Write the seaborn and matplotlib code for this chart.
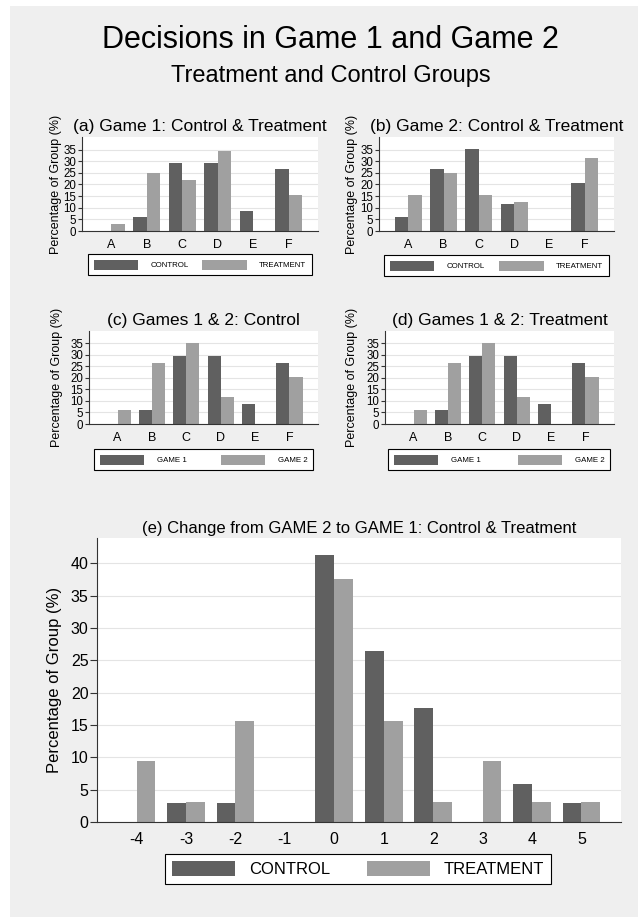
import numpy as np
import pandas as pd
import seaborn as sns
import matplotlib.pyplot as plt
from matplotlib.patches import Rectangle


choices = ["A", "B", "C", "D", "E", "F"]

# percent of each group choosing A-F
g1_control = [0.0, 5.9, 29.4, 29.4, 8.8, 26.5]
g1_treatment = [3.1, 25.0, 21.9, 34.4, 0.0, 15.6]
g2_control = [5.9, 26.5, 35.3, 11.8, 0.0, 20.6]
g2_treatment = [15.6, 25.0, 15.6, 12.5, 0.0, 31.3]

# panel (d) as drawn in the source figure
d_game1 = [0.0, 5.9, 29.4, 29.4, 8.8, 26.5]
d_game2 = [5.9, 26.5, 35.3, 11.8, 0.0, 20.6]

changes = ["-4", "-3", "-2", "-1", "0", "1", "2", "3", "4", "5"]
change_control = [0.0, 2.9, 2.9, 0.0, 41.2, 26.5, 17.6, 0.0, 5.9, 2.9]
change_treatment = [9.4, 3.1, 15.6, 0.0, 37.5, 15.6, 3.1, 9.4, 3.1, 3.1]

DARK = "#606060"
LIGHT = "#a0a0a0"
W, H = 638, 917


def long(cats, v1, v2, n1, n2):
    return pd.DataFrame({
        "cat": cats + cats,
        "pct": v1 + v2,
        "grp": [n1] * len(cats) + [n2] * len(cats),
    })


def rect(x0, y0, x1, y1):
    return [x0 / W, 1 - y1 / H, (x1 - x0) / W, (y1 - y0) / H]


sns.set_theme(style="white")
plt.rcParams["font.family"] = ["Liberation Sans", "DejaVu Sans"]
plt.rcParams["text.color"] = "black"
plt.rcParams["axes.labelcolor"] = "black"
plt.rcParams["xtick.color"] = "black"
plt.rcParams["ytick.color"] = "black"

fig = plt.figure(figsize=(W / 100, H / 100), dpi=100)
fig.patch.set_facecolor("white")
fig.add_artist(Rectangle((10 / W, 0), 1 - 10 / W, 1 - 6 / H,
                         transform=fig.transFigure, facecolor="#efefef",
                         edgecolor="none", zorder=-1))

fig.text(330 / W, 1 - 48.3 / H, "Decisions in Game 1 and Game 2",
         ha="center", va="baseline", fontsize=22)
fig.text(331 / W, 1 - 81.7 / H, "Treatment and Control Groups",
         ha="center", va="baseline", fontsize=17)


def panel(df, order, box, title, leg_box, lab_x, big=False):
    x0, y0, x1, y1 = box
    ax = fig.add_axes(rect(*box))
    ax.set_facecolor("white")
    sns.barplot(data=df, x="cat", y="pct", hue="grp", order=order,
                palette=[DARK, LIGHT], saturation=1, width=0.76,
                linewidth=0, ax=ax)
    leg = ax.get_legend()
    handles = leg.legend_handles
    labels = [t.get_text() for t in leg.get_texts()]
    leg.remove()

    n = len(order)
    if big:
        ax.set_xlim(-0.8, n - 0.2)
        ax.set_ylim(0, 43.9)
        ax.set_yticks(np.arange(0, 45, 5))
        fs_title, fs_lab, fs_yt, fs_xt = 12, 12, 11.5, 11.5
        tpad, tick_len, xpad = 3.6, 5, 7
        lfs, hl, hh, htp, bp = 12, 3.8, 1.0, 0.8, 0.42
    else:
        ax.set_xlim(-0.83, n - 0.17)
        ax.set_ylim(0, 40.4)
        ax.set_yticks(np.arange(0, 40, 5))
        fs_title, fs_lab, fs_yt, fs_xt = 12.5, 9, 8.3, 9
        tpad, tick_len, xpad = 4.5, 3, 6
        lfs, hl, hh, htp, bp = 5.7, 5.6, 1.6, 1.6, 0.7

    ax.set_title(title, fontsize=fs_title, pad=tpad, color="black")
    ax.set_xlabel("")
    ax.set_ylabel("Percentage of Group (%)", fontsize=fs_lab)
    ax.yaxis.set_label_coords((lab_x - x0) / (x1 - x0), 0.5)

    ax.yaxis.grid(True, color="#e4e4e4", linewidth=0.8)
    ax.set_axisbelow(True)
    for s in ["top", "right"]:
        ax.spines[s].set_visible(False)
    for s in ["left", "bottom"]:
        ax.spines[s].set_color("#333333")
        ax.spines[s].set_linewidth(0.8)
    ax.tick_params(axis="y", direction="out", length=tick_len, width=0.8,
                   color="#333333", pad=1, labelsize=fs_yt, left=True)
    ax.tick_params(axis="x", length=0, pad=xpad, labelsize=fs_xt)

    lx0, ly0, lx1, ly1 = leg_box
    ax.legend(handles, labels, loc="upper left", ncol=2, mode="expand",
              bbox_to_anchor=(lx0 / W, 1 - ly1 / H, (lx1 - lx0) / W, (ly1 - ly0) / H),
              bbox_transform=fig.transFigure, borderaxespad=0,
              fontsize=lfs, handlelength=hl, handleheight=hh,
              handletextpad=htp, borderpad=bp, frameon=True, fancybox=False,
              edgecolor="black", facecolor="white", framealpha=1)
    ax.get_legend().get_frame().set_linewidth(0.8)
    return ax


panel(long(choices, g1_control, g1_treatment, "CONTROL", "TREATMENT"), choices,
      (82, 137, 318, 231), "(a) Game 1: Control & Treatment",
      (88, 254, 312, 280), 61.5)
panel(long(choices, g2_control, g2_treatment, "CONTROL", "TREATMENT"), choices,
      (379, 137, 614, 231), "(b) Game 2: Control & Treatment",
      (384, 255, 609, 278), 358)
panel(long(choices, g1_control, g2_control, "GAME 1", "GAME 2"), choices,
      (89, 331, 318, 424), "(c) Games 1 & 2: Control",
      (94, 449, 313, 473), 63)
panel(long(choices, d_game1, d_game2, "GAME 1", "GAME 2"), choices,
      (385, 331, 614, 424), "(d) Games 1 & 2: Treatment",
      (388, 449, 610, 473), 358)
panel(long(changes, change_control, change_treatment, "CONTROL", "TREATMENT"), changes,
      (97, 538, 621, 822), "(e) Change from GAME 2 to GAME 1: Control & Treatment",
      (165, 854, 551, 885), 61.7, big=True)

fig.savefig("out.png", dpi=100)
